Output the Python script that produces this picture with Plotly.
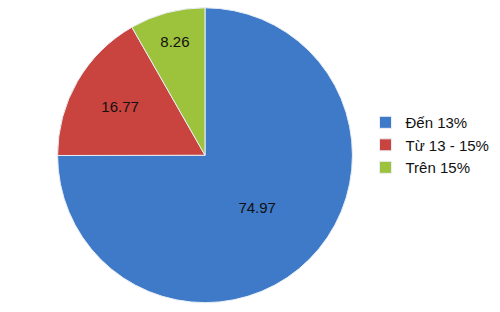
import plotly.graph_objects as go

labels = ["Đến 13%", "Từ 13 - 15%", "Trên 15%"]
values = [74.97, 16.77, 8.26]
value_text = ["74.97", "16.77", "8.26"]
colors = ["#3F7AC8", "#C9433F", "#9DC23C"]

fig = go.Figure(go.Pie(
    labels=labels,
    values=values,
    text=value_text,
    textinfo="text",
    textposition="inside",
    insidetextorientation="horizontal",
    sort=False,
    direction="clockwise",
    rotation=0,
    marker=dict(colors=colors, line=dict(color="#E8EEF6", width=1)),
    textfont=dict(family="Liberation Sans, Arial, sans-serif", size=15, color="#111111"),
    domain=dict(x=[0.09, 0.73], y=[0.03, 0.975]),
    hoverinfo="label+value",
))

fig.update_layout(
    width=500, height=312,
    margin=dict(l=0, r=0, t=0, b=0),
    paper_bgcolor="white",
    plot_bgcolor="white",
    showlegend=True,
    legend=dict(
        x=0.731, y=0.535, xanchor="left", yanchor="middle",
        font=dict(family="Liberation Sans, Arial, sans-serif", size=15, color="#111111"),
        itemwidth=30,
        tracegroupgap=0,
        bgcolor="rgba(0,0,0,0)",
    ),
)

fig.write_html("out.html")
